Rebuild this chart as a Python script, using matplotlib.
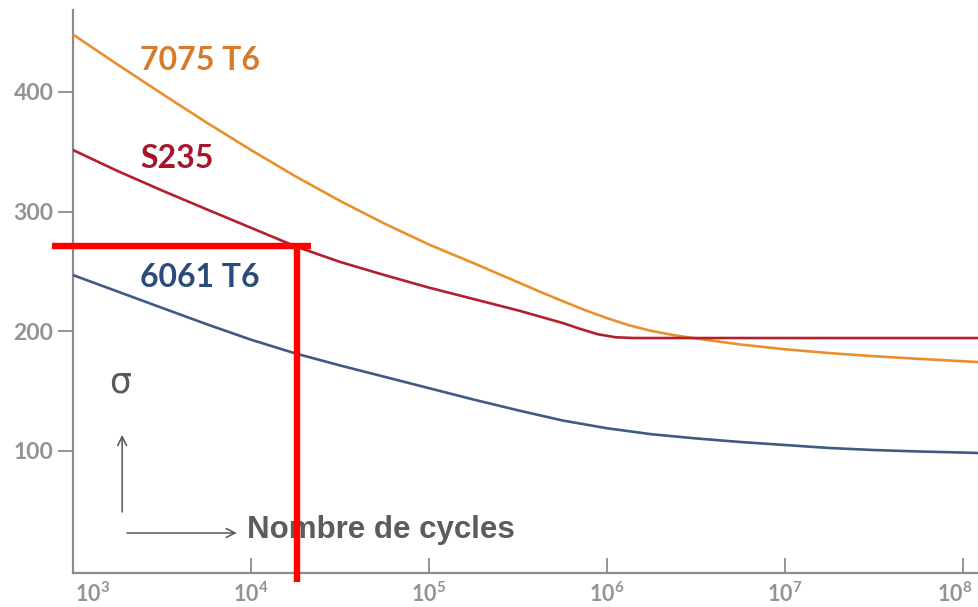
import numpy as np
import matplotlib
matplotlib.use("Agg")
import matplotlib.pyplot as plt
import matplotlib.transforms as mtransforms

# ---------------- data ----------------
# log10(number of cycles) and stress (MPa)
logN_7075 = [3.0, 3.25, 3.5, 3.75, 4.0, 4.25, 4.5, 4.75, 5.0, 5.25, 5.5, 5.625,
             5.75, 5.875, 6.0, 6.125, 6.25, 6.375, 6.5, 6.75, 7.0, 7.25, 7.5,
             7.75, 8.0, 8.09]
sig_7075 = [448.0, 423.0, 398.5, 374.5, 351.5, 329.5, 309.0, 290.0, 272.5, 257.0,
            241.0, 233.0, 225.3, 217.8, 211.0, 205.0, 200.3, 196.8, 194.0, 189.0,
            185.0, 181.8, 179.2, 177.0, 175.0, 174.3]

logN_S235 = [3.0, 3.25, 3.5, 3.75, 4.0, 4.25, 4.5, 4.75, 5.0, 5.25, 5.5, 5.75,
             5.85, 5.95, 6.05, 6.15, 6.5, 7.0, 7.5, 8.09]
sig_S235 = [351.5, 334.0, 317.7, 302.0, 286.5, 271.0, 258.0, 247.0, 236.5, 227.0,
            217.5, 207.0, 202.0, 197.5, 195.0, 194.4, 194.4, 194.4, 194.4, 194.4]

logN_6061 = [3.0, 3.25, 3.5, 3.75, 4.0, 4.25, 4.5, 4.75, 5.0, 5.25, 5.5, 5.75,
             6.0, 6.25, 6.5, 6.75, 7.0, 7.25, 7.5, 7.75, 8.0, 8.09]
sig_6061 = [247.0, 233.3, 219.6, 206.0, 193.0, 181.5, 171.5, 162.0, 152.5, 143.0,
            134.0, 125.5, 119.0, 114.0, 110.5, 107.5, 105.0, 102.5, 100.8, 99.6,
            98.7, 98.3]

series_labels = ["7075 T6", "S235", "6061 T6"]
series_colors = ["#e8902e", "#b41f2c", "#3f5b82"]
label_colors = ["#d97a2a", "#a8152a", "#2d4b7a"]

# crosshair (reading point on the S235 curve)
cross_N = 1.81e4
cross_sigma = 271.0

y_ticks = [100, 200, 300, 400]
x_tick_exp = [3, 4, 5, 6, 7, 8]

# ---------------- figure ----------------
plt.rcParams['font.family'] = ['Lato', 'DejaVu Sans']
W, H = 979, 607
fig = plt.figure(figsize=(W / 100, H / 100), dpi=100)
ax = fig.add_axes([73 / W, (H - 573) / H, (W - 73) / W, (573 - 10) / H])

ax.set_xscale('log')
ax.set_xlim(1e3, 10 ** 8.09)
ax.set_ylim(-1.95, 468.5)

for lN, s, c in zip([logN_7075, logN_S235, logN_6061],
                    [sig_7075, sig_S235, sig_6061], series_colors):
    ax.plot(10 ** np.array(lN), s, color=c, lw=1.9, solid_joinstyle='round',
            solid_capstyle='round', zorder=3)

# curve labels
label_pos = [(10 ** 3.376, 426.7), (10 ** 3.376, 344.8), (10 ** 3.376, 244.6)]
for (x, y), t, c in zip(label_pos, series_labels, label_colors):
    ax.text(x, y, t, color=c, fontsize=23, fontweight='bold',
            ha='left', va='center', zorder=4)

# crosshair
ax.plot([10 ** 2.882, 10 ** 4.337], [cross_sigma, cross_sigma], color='#ff0000',
        lw=4.6, solid_capstyle='butt', clip_on=False, zorder=5)
ax.plot([cross_N, cross_N], [cross_sigma + 1.5, -9.5], color='#ff0000',
        lw=4.6, solid_capstyle='butt', clip_on=False, zorder=5)

# sigma and arrows
ax.text(10 ** 3.264, 157, "σ", color='#5a5a5a', fontsize=25, ha='center',
        va='center', family=['DejaVu Sans'])
ax.annotate("", xy=(10 ** 3.276, 113.4), xytext=(10 ** 3.276, 49),
            arrowprops=dict(arrowstyle='->', color='#555555', lw=1.1,
                            mutation_scale=16, shrinkA=0, shrinkB=0))
ax.annotate("", xy=(10 ** 3.92, 31.5), xytext=(10 ** 3.303, 31.5),
            arrowprops=dict(arrowstyle='->', color='#555555', lw=1.1,
                            mutation_scale=16, shrinkA=0, shrinkB=0))
ax.text(10 ** 3.978, 34, "Nombre de cycles", color='#5c5c5c', fontsize=22.5,
        fontweight='bold', ha='left', va='center',
        family=['Liberation Sans', 'DejaVu Sans'], zorder=4)

# spines
axis_col = '#8c8c8c'
for s in ['top', 'right']:
    ax.spines[s].set_visible(False)
for s in ['left', 'bottom']:
    ax.spines[s].set_color(axis_col)
    ax.spines[s].set_linewidth(1.6)

ax.set_yticks(y_ticks)
ax.set_yticklabels([str(v) for v in y_ticks], fontweight='bold')
ax.tick_params(axis='y', direction='out', length=11, width=1.3, color=axis_col,
               labelcolor='#939393', labelsize=16.5, pad=3)

ax.set_xticks([10.0 ** e for e in x_tick_exp])
ax.set_xticklabels([r'$\mathregular{10^{%d}}$' % e for e in x_tick_exp],
                   fontweight='bold')
ax.xaxis.set_minor_locator(matplotlib.ticker.NullLocator())
ax.tick_params(axis='x', direction='in', length=11, width=1.3, color=axis_col,
               labelcolor='#939393', labelsize=15.5, pad=6)

# shift the first x label off the y axis, and the last one inside the figure
xlabels = ax.get_xticklabels()
xlabels[0].set_transform(xlabels[0].get_transform() +
                         mtransforms.ScaledTranslation(20 / 100, 0, fig.dpi_scale_trans))
xlabels[-1].set_transform(xlabels[-1].get_transform() +
                          mtransforms.ScaledTranslation(-8 / 100, 0, fig.dpi_scale_trans))

fig.savefig("out.png", dpi=100)
